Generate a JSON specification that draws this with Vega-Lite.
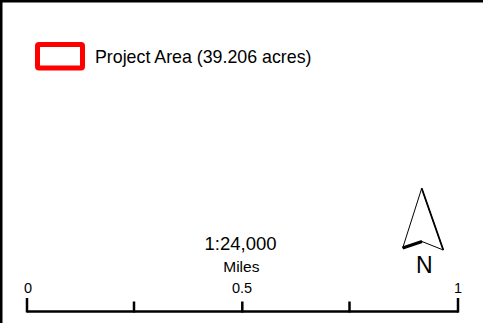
{
  "$schema": "https://vega.github.io/schema/vega-lite/v6.json",
  "width": 483,
  "height": 323,
  "autosize": {"type": "none"},
  "padding": 0,
  "background": "white",
  "config": {"view": {"stroke": null}},
  "datasets": {
    "frame": [
      {"x": 0, "y": 1, "x2": 483, "y2": 1},
      {"x": 1, "y": 0, "x2": 1, "y2": 323}
    ],
    "bar": [{"x": 27, "y": 311.5, "x2": 458.5, "y2": 311.5}],
    "endTicks": [
      {"x": 27, "y": 298, "x2": 27, "y2": 312.5},
      {"x": 458, "y": 298, "x2": 458, "y2": 312.5}
    ],
    "midTicks": [
      {"x": 134, "y": 301.5, "x2": 134, "y2": 312.5},
      {"x": 242.3, "y": 301.5, "x2": 242.3, "y2": 312.5},
      {"x": 349.5, "y": 301.5, "x2": 349.5, "y2": 312.5}
    ],
    "legendBox": [{"x": 37.5, "y": 44.5, "x2": 82.5, "y2": 68}],
    "arrow": [
      {"o": 1, "x": 421.7, "y": 188.3},
      {"o": 2, "x": 402.7, "y": 248},
      {"o": 3, "x": 422, "y": 241.5},
      {"o": 4, "x": 443.3, "y": 250},
      {"o": 5, "x": 421.7, "y": 188.3}
    ],
    "arrowThick": [
      {"o": 1, "x": 402.7, "y": 248},
      {"o": 2, "x": 422, "y": 241.5}
    ],
    "arrowRight": [
      {"o": 1, "x": 421.7, "y": 188.3},
      {"o": 2, "x": 443.3, "y": 250}
    ],
    "legendText": [{"x": 95, "y": 63.3, "label": "Project Area (39.206 acres)"}],
    "scaleText": [{"x": 240.5, "y": 250, "label": "1:24,000"}],
    "milesText": [{"x": 241.3, "y": 271.7, "label": "Miles"}],
    "tickText": [
      {"x": 28, "y": 292.7, "label": "0"},
      {"x": 242, "y": 292.7, "label": "0.5"},
      {"x": 458, "y": 292.7, "label": "1"}
    ],
    "nText": [{"x": 424.2, "y": 273.3, "label": "N"}]
  },
  "encoding": {
    "x": {"field": "x", "type": "quantitative", "axis": null, "scale": {"domain": [0, 483], "nice": false, "zero": false}},
    "y": {"field": "y", "type": "quantitative", "axis": null, "scale": {"domain": [0, 323], "nice": false, "zero": false, "reverse": true}}
  },
  "layer": [
    {
      "data": {"name": "frame"},
      "mark": {"type": "rule", "color": "black", "strokeWidth": 3},
      "encoding": {"x2": {"field": "x2"}, "y2": {"field": "y2"}}
    },
    {
      "data": {"name": "legendBox"},
      "mark": {"type": "rect", "fill": "white", "stroke": "#ff0000", "strokeWidth": 5, "cornerRadius": 1.5},
      "encoding": {"x2": {"field": "x2"}, "y2": {"field": "y2"}}
    },
    {
      "data": {"name": "bar"},
      "mark": {"type": "rule", "color": "black", "strokeWidth": 2.5},
      "encoding": {"x2": {"field": "x2"}, "y2": {"field": "y2"}}
    },
    {
      "data": {"name": "endTicks"},
      "mark": {"type": "rule", "color": "black", "strokeWidth": 2.5},
      "encoding": {"x2": {"field": "x2"}, "y2": {"field": "y2"}}
    },
    {
      "data": {"name": "midTicks"},
      "mark": {"type": "rule", "color": "black", "strokeWidth": 2.5},
      "encoding": {"x2": {"field": "x2"}, "y2": {"field": "y2"}}
    },
    {
      "data": {"name": "arrow"},
      "mark": {"type": "line", "color": "black", "strokeWidth": 1, "strokeJoin": "miter"},
      "encoding": {"order": {"field": "o", "type": "quantitative"}}
    },
    {
      "data": {"name": "arrowRight"},
      "mark": {"type": "line", "color": "black", "strokeWidth": 1.8},
      "encoding": {"order": {"field": "o", "type": "quantitative"}}
    },
    {
      "data": {"name": "arrowThick"},
      "mark": {"type": "line", "color": "black", "strokeWidth": 3.2},
      "encoding": {"order": {"field": "o", "type": "quantitative"}}
    },
    {
      "data": {"name": "legendText"},
      "mark": {"type": "text", "align": "left", "baseline": "alphabetic", "font": "Liberation Sans", "fontSize": 17.8, "color": "black"},
      "encoding": {"text": {"field": "label"}}
    },
    {
      "data": {"name": "scaleText"},
      "mark": {"type": "text", "align": "center", "baseline": "alphabetic", "font": "Liberation Sans", "fontSize": 18.5, "color": "black"},
      "encoding": {"text": {"field": "label"}}
    },
    {
      "data": {"name": "milesText"},
      "mark": {"type": "text", "align": "center", "baseline": "alphabetic", "font": "Liberation Sans", "fontSize": 15.5, "color": "black"},
      "encoding": {"text": {"field": "label"}}
    },
    {
      "data": {"name": "tickText"},
      "mark": {"type": "text", "align": "center", "baseline": "alphabetic", "font": "Liberation Sans", "fontSize": 14.5, "color": "black"},
      "encoding": {"text": {"field": "label"}}
    },
    {
      "data": {"name": "nText"},
      "mark": {"type": "text", "align": "center", "baseline": "alphabetic", "font": "Liberation Sans", "fontSize": 23, "color": "black"},
      "encoding": {"text": {"field": "label"}}
    }
  ]
}
